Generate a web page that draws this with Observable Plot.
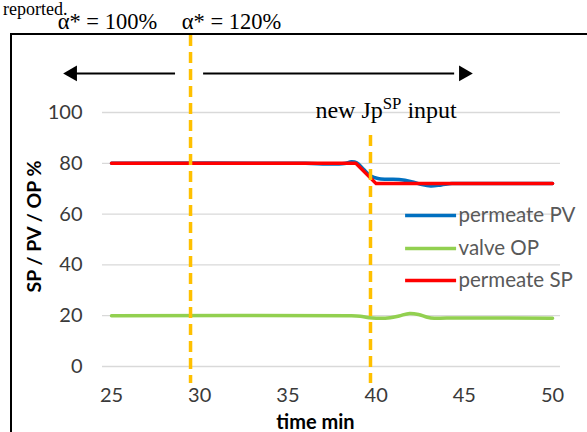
<!DOCTYPE html>
<html><head><meta charset="utf-8">
<script src="https://cdn.jsdelivr.net/npm/d3@7"></script>
<script src="https://cdn.jsdelivr.net/npm/@observablehq/plot@0.6"></script>
<style>
body{margin:0;background:#fff;}
#wrap{position:relative;width:587px;height:432px;overflow:hidden;background:#fff;}
#box{position:absolute;left:10px;top:33px;width:640px;height:480px;border:2px solid #000;box-sizing:border-box;}
#rep{position:absolute;left:3px;top:0px;font:18px/18px "Liberation Serif",serif;color:#000;}
#chart{position:absolute;left:0;top:0;}
</style></head><body>
<div id="wrap"><div id="rep">reported.</div><div id="box"></div><div id="chart"></div></div>
<script>
// ---- data (time in minutes, values in %) ----
const spTime  = [25, 38.85, 40.0, 50];
const spValue = [80, 80, 72, 72];
const pvTime  = [25, 36, 37.2, 38.2, 38.6, 38.9, 39.3, 39.7, 40.1, 40.6, 41.3, 42.0, 42.6, 43.1, 43.7, 44.3, 45, 50];
const pvValue = [80, 80, 79.7, 79.9, 80.6, 80.2, 77.5, 75.0, 74.0, 73.7, 73.6, 72.8, 71.6, 71.1, 71.5, 72.0, 72, 72];
const opTime  = [25, 38.6, 39.1, 39.6, 40.0, 40.8, 41.3, 41.9, 42.4, 42.9, 43.3, 44.0, 50];
const opValue = [20, 20, 19.8, 19.2, 19.0, 19.2, 19.9, 20.9, 20.5, 19.4, 19.0, 19.1, 19.0];

const seriesNames  = ["permeate PV", "valve OP", "permeate SP"];
const seriesColors = ["#0070C0", "#92D050", "#FF0000"];

const xTicks = [25, 30, 35, 40, 45, 50];
const yTicks = [0, 20, 40, 60, 80, 100];

// annotation anchors (in data units)
const markerTimes  = [29.48, 39.68];        // dashed vertical lines
const markerTops   = [130.3, 90.9];
const markerBottom = -6.7;
const alphaLabels  = ["α* = 100%", "α* = 120%"];
const alphaX       = [24.77, 31.8];
const alphaY       = 135.8;
const arrowY       = 115.4;
const arrowLines   = [{x1: 28.63, x2: 23.0}, {x1: 30.22, x2: 44.45}];
const arrowHeads   = [{x: 22.78, rot: -90}, {x: 44.96, rot: 90}];
const noteText = "new JpSP input", noteX = 36.56, noteY = 100.8;
const legendY = [59.4, 46.5, 33.9], legendX1 = 41.67, legendX2 = 44.56, legendTextX = 44.67;
const xTitle = "time min", xTitleX = 36.56, xTitleY = -22;
const yTitle = "SP / PV / OP %", yTitleX = 20.64, yTitleY = 55.1;

const toRows = (t, v) => t.map((d, i) => ({t: d, v: v[i]}));
const pv = toRows(pvTime, pvValue), op = toRows(opTime, opValue), sp = toRows(spTime, spValue);
const legend = seriesNames.map((n, i) => ({name: n, color: seriesColors[i], y: legendY[i]}));
const markers = markerTimes.map((x, i) => ({x, y1: markerTops[i], y2: markerBottom}));
const alphas = alphaLabels.map((s, i) => ({s, x: alphaX[i], y: alphaY}));

const serif = "Liberation Serif";
const plot = Plot.plot({
  width: 587, height: 432,
  marginLeft: 102, marginRight: 27, marginTop: 112, marginBottom: 66,
  style: {fontFamily: "Lato", fontSize: "20px", color: "#3a3a3a", overflow: "visible", background: "transparent"},
  x: {domain: [24.49, 50.45]},
  y: {domain: [0, 100]},
  marks: [
    Plot.ruleY(yTicks, {stroke: "#D9D9D9", strokeWidth: 1.3}),
    Plot.axisY({ticks: yTicks, tickSize: 0, tickPadding: 20, label: null}),
    Plot.axisX({ticks: xTicks, tickSize: 0, tickPadding: 21, label: null}),
    Plot.line(op, {x: "t", y: "v", stroke: seriesColors[1], strokeWidth: 3.5, curve: "catmull-rom"}),
    Plot.line(pv, {x: "t", y: "v", stroke: seriesColors[0], strokeWidth: 3.5, curve: "catmull-rom"}),
    Plot.line(sp, {x: "t", y: "v", stroke: seriesColors[2], strokeWidth: 3.5, strokeLinejoin: "round"}),
    Plot.ruleX(markers, {x: "x", y1: "y1", y2: "y2", stroke: "#FFC000", strokeWidth: 3.5, strokeDasharray: "11,6"}),
    Plot.ruleY(arrowLines, {y: arrowY, x1: "x1", x2: "x2", stroke: "#000", strokeWidth: 2}),
    Plot.dot(arrowHeads, {x: "x", y: arrowY, symbol: "triangle", r: 5.9, fill: "#000", stroke: "none", rotate: "rot"}),
    Plot.text(alphas, {x: "x", y: "y", text: "s", fontFamily: serif, fontSize: 22.5, fill: "#000"}),
    Plot.text([noteText], {x: noteX, y: noteY, text: d => d, textAnchor: "start", fontFamily: serif, fontSize: 24, fill: "#000"}),
    Plot.ruleY(legend, {y: "y", x1: legendX1, x2: legendX2, stroke: "color", strokeWidth: 3.5}),
    Plot.text(legend, {x: legendTextX, y: "y", text: "name", textAnchor: "start", fill: "#595959", fontSize: 20.5}),
    Plot.text([xTitle], {x: xTitleX, y: xTitleY, text: d => d, fontWeight: "bold", fill: "#000", fontSize: 20}),
    Plot.text([yTitle], {x: yTitleX, y: yTitleY, text: d => d, fontWeight: "bold", fill: "#000", fontSize: 19.5, rotate: -90})
  ]
});
// superscript "SP" in the annotation
d3.select(plot).selectAll("text").filter(function() { return this.textContent === noteText; })
  .html('new Jp<tspan baseline-shift="super" font-size="70%">SP</tspan> input');
document.getElementById("chart").appendChild(plot);
</script>
</body></html>
